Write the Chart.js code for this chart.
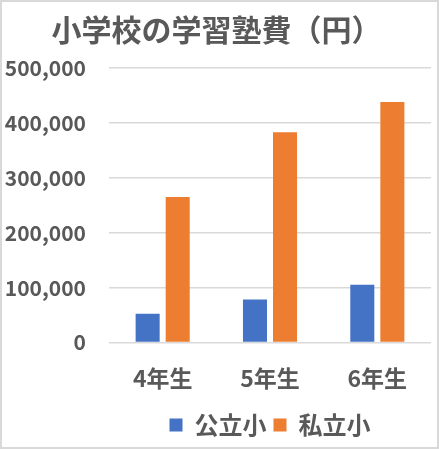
<!DOCTYPE html>
<html><head><meta charset="utf-8">
<script src="https://cdn.jsdelivr.net/npm/chart.js@4"></script>
<style>
html,body{margin:0;padding:0;background:#fff;}
#wrap{width:439px;height:449px;box-sizing:border-box;border:2px solid #D9D9D9;position:relative;}
canvas{display:block;}
</style></head>
<body>
<div id="wrap"><canvas id="c"></canvas></div>
<script>
const titleText = "小学校の学習塾費（円）";
const categories = ["4年生", "5年生", "6年生"];
const seriesNames = ["公立小", "私立小"];
const publicValues = [52000, 78000, 105000];
const privateValues = [265000, 383000, 438000];
const yTicks = [0, 100000, 200000, 300000, 400000, 500000];

const FONT = "'Noto Sans CJK JP', 'Noto Sans', sans-serif";
const TXT = "#595959";

const legendOverPlot = {
  id: 'legendOverPlot',
  afterLayout(chart) {
    const l = chart.legend;
    if (!l) return;
    l.left = chart.chartArea.left;
    l.right = chart.chartArea.right;
    l.width = l.right - l.left;
  }
};

new Chart(document.getElementById('c'), {
  type: 'bar',
  data: {
    labels: categories,
    datasets: [
      { label: seriesNames[0], data: publicValues, backgroundColor: '#4472C4', categoryPercentage: 0.56, barPercentage: 0.8 },
      { label: seriesNames[1], data: privateValues, backgroundColor: '#ED7D31', categoryPercentage: 0.56, barPercentage: 0.8 }
    ]
  },
  plugins: [legendOverPlot],
  options: {
    responsive: true,
    maintainAspectRatio: false,
    animation: false,
    layout: { padding: { left: 0, right: 6, top: 8, bottom: 0 } },
    plugins: {
      title: { display: true, text: titleText, color: TXT, font: { family: FONT, size: 30, weight: 'bold' }, padding: { top: 2, bottom: 20 } },
      legend: { position: 'bottom', labels: { color: TXT, font: { family: FONT, size: 24, weight: 'bold' }, boxWidth: 13, boxHeight: 13, padding: 7 } },
      tooltip: { enabled: false }
    },
    scales: {
      x: {
        grid: { display: false },
        border: { display: false },
        ticks: { color: TXT, font: { family: FONT, size: 23, weight: 'bold' }, padding: 14 }
      },
      y: {
        min: 0, max: 500000,
        afterBuildTicks: (axis) => { axis.ticks = yTicks.map(v => ({ value: v })); },
        afterFit: (axis) => { axis.width = 107; },
        grid: { color: '#D9D9D9', lineWidth: 1.5, drawTicks: false },
        border: { display: false },
        ticks: { color: TXT, font: { family: FONT, size: 21, weight: 'bold' }, padding: 23,
          callback: (v) => v.toLocaleString('en-US') }
      }
    }
  }
});
</script>
</body></html>
